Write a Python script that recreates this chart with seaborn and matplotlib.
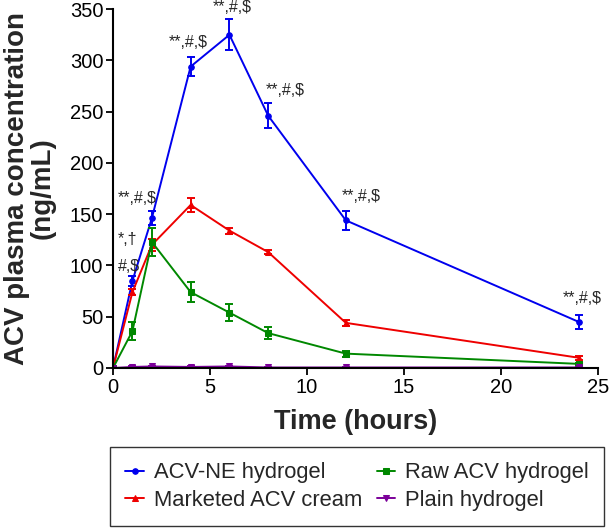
import numpy as np
import pandas as pd
import matplotlib
matplotlib.use("Agg")
import matplotlib.pyplot as plt
import seaborn as sns

# data
times = [0, 1, 2, 4, 6, 8, 12, 24]

acv_ne = [0, 85, 146, 294, 325, 246, 144, 45]
acv_ne_err = [0, 5, 7, 9, 15, 12, 9, 7]

marketed = [0, 74, 120, 159, 134, 113, 44, 10]
marketed_err = [0, 3, 6, 7, 3, 2, 3, 2]

raw = [0, 36, 123, 74, 54, 34, 14, 4]
raw_err = [0, 9, 14, 10, 8, 6, 3, 1]

plain = [0, 1, 1.5, 1, 1.5, 0.5, 0.5, 0.5]
plain_err = [0, 0.5, 0.5, 0.5, 0.5, 0.5, 0.5, 0.5]

series_names = ["ACV-NE hydrogel", "Marketed ACV cream", "Raw ACV hydrogel", "Plain hydrogel"]
series_vals = [acv_ne, marketed, raw, plain]
series_errs = [acv_ne_err, marketed_err, raw_err, plain_err]
colors = ["#0000ee", "#ee0000", "#008800", "#7b0099"]
markers = ["o", "^", "s", "v"]

# significance labels (x, y, text)
ann_x = [0.25, 0.25, 0.25, 3.9, 6.15, 8.9, 12.8, 24.2]
ann_y = [99, 125, 165, 317, 352, 271, 167, 68]
ann_text = ["#,$", "*,\u2020", "**,#,$", "**,#,$", "**,#,$", "**,#,$", "**,#,$", "**,#,$"]

sns.set_style("ticks")
plt.rcParams["font.family"] = ["Liberation Sans", "DejaVu Sans"]

fig = plt.figure(figsize=(6.09, 5.30), dpi=100)
ax = fig.add_axes([0.1856, 0.3057, 0.7964, 0.677])

for name, vals, errs, c, m in zip(series_names, series_vals, series_errs, colors, markers):
    df = pd.DataFrame({"time": times, "conc": vals})
    sns.lineplot(data=df, x="time", y="conc", color=c, marker=m, markersize=4,
                 markeredgecolor=c, linewidth=1.4, label=name, ax=ax)
    ax.errorbar(times, vals, yerr=errs, fmt="none", ecolor=c, elinewidth=1.4,
                capsize=3, capthick=1.4)

for x, y, t in zip(ann_x, ann_y, ann_text):
    ha = "left" if x < 1 else "center"
    ax.text(x, y, t, fontsize=11.5, ha=ha, va="center", clip_on=False)

ax.set_xlim(0, 25)
ax.set_ylim(0, 350)
ax.set_xticks([0, 5, 10, 15, 20, 25])
ax.set_yticks(np.arange(0, 351, 50))
ax.tick_params(labelsize=14.5, length=5, width=1.3, colors="black", pad=2)
for s in ["left", "bottom"]:
    ax.spines[s].set_linewidth(1.5)
    ax.spines[s].set_color("black")
sns.despine(ax=ax)

ax.set_xlabel("Time (hours)", fontsize=19.5, fontweight="bold", labelpad=9)
ax.set_ylabel("ACV plasma concentration\n(ng/mL)", fontsize=20, fontweight="bold",
              labelpad=10, linespacing=1.0)

handles, labels = ax.get_legend_handles_labels()
ax.get_legend().remove()
leg = fig.legend(handles, labels, ncol=2, loc="upper left",
                 bbox_to_anchor=(110 / 609, 1 - 447 / 530),
                 fontsize=15.8, frameon=True, fancybox=False, edgecolor="black",
                 handlelength=0.85, handletextpad=0.45, columnspacing=0.65,
                 borderaxespad=0, borderpad=0.7, labelspacing=0.28)
leg.get_frame().set_linewidth(1.0)

fig.savefig("out.png", dpi=100)
